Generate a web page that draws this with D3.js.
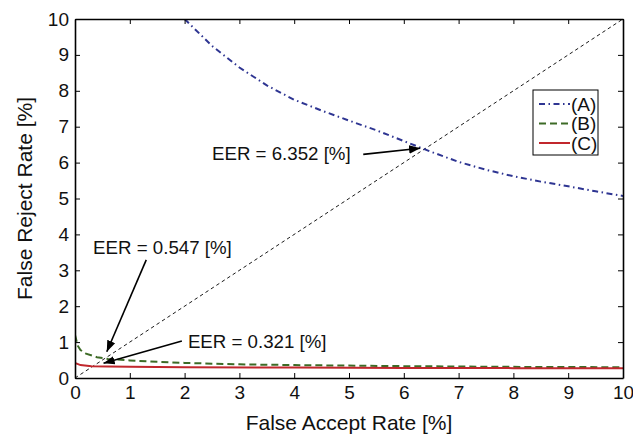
<!DOCTYPE html>
<meta charset="utf-8">
<head>
<style>
body { margin: 0; background: #fff; }
svg { display: block; }
text {
  font-family: "Liberation Sans", Arial, Helvetica, sans-serif;
  fill: #111;
}
.axis path, .axis line { stroke: #000; }
.axis path { stroke-width: 1.6px; }
.axis line { stroke-width: 1px; }
.axis text { font-size: 19px; }
.curve { fill: none; stroke-width: 2px; }
.note { font-size: 18.7px; }
</style>
<script src="https://d3js.org/d3.v7.min.js"></script>
</head>
<body>
<svg width="633" height="437"></svg>
<script>

// curve (A) : dash-dot blue
var farA = [2, 2.5, 3, 3.5, 4, 4.5, 5, 5.5, 6, 6.5, 7, 7.5, 8, 8.5, 9, 9.5, 10];
var frrA = [10, 9.25, 8.65, 8.15, 7.75, 7.45, 7.17, 6.9, 6.6, 6.3, 6.02, 5.8, 5.62, 5.47, 5.34, 5.2, 5.07];

// curve (B) : dashed green
var farB = [0, 0.05, 0.1, 0.2, 0.4, 0.6, 1, 1.5, 2, 3, 4, 6, 8, 10];
var frrB = [1.2, 0.9, 0.78, 0.68, 0.58, 0.53, 0.49, 0.45, 0.42, 0.38, 0.36, 0.33, 0.31, 0.3];

// curve (C) : solid red
var farC = [0, 0, 0.1, 0.3, 0.6, 1, 2, 4, 6, 8, 10];
var frrC = [10.5, 0.42, 0.36, 0.33, 0.32, 0.31, 0.3, 0.29, 0.28, 0.275, 0.27];

var seriesNames = ["(A)", "(B)", "(C)"];
var ticks = [0, 1, 2, 3, 4, 5, 6, 7, 8, 9, 10];

// EER annotations: label, label anchor, arrow start, arrow tip (data units)
var eerText = ["EER = 6.352 [%]", "EER = 0.547 [%]", "EER = 0.321 [%]"];
var eerLabelAt = [[2.5, 6.07], [0.33, 3.45], [2.06, 0.84]];
var eerFrom = [[5.26, 6.23], [1.30, 3.29], [1.95, 1.03]];
var eerTo = [[6.3, 6.4], [0.58, 0.73], [0.52, 0.41]];

var svg = d3.select("svg");
var pLeft = 75, pRight = 623, pTop = 19, pBottom = 378;

var x = d3.scaleLinear().domain([0, 10]).range([pLeft, pRight]);
var y = d3.scaleLinear().domain([0, 10]).range([pBottom, pTop]);

var defs = svg.append("defs");
defs.append("clipPath").attr("id", "plot")
  .append("rect")
    .attr("x", pLeft).attr("y", pTop)
    .attr("width", pRight - pLeft).attr("height", pBottom - pTop);

defs.append("marker")
    .attr("id", "head")
    .attr("viewBox", "0 0 10 10")
    .attr("refX", 10).attr("refY", 5)
    .attr("markerWidth", 7).attr("markerHeight", 7)
    .attr("markerUnits", "strokeWidth")
    .attr("orient", "auto")
  .append("path")
    .attr("d", "M0,1.2 L10,5 L0,8.8 Z")
    .attr("fill", "#000");

// diagonal (EER line)
var plot = svg.append("g").attr("clip-path", "url(#plot)");
plot.append("line")
    .attr("x1", x(0)).attr("y1", y(0))
    .attr("x2", x(10)).attr("y2", y(10))
    .attr("stroke", "#000")
    .attr("stroke-width", 0.9)
    .attr("stroke-dasharray", "3.5,3");

var line = d3.line()
    .x(function(d) { return x(d[0]); })
    .y(function(d) { return y(d[1]); });

var series = [
  { name: seriesNames[0], pts: d3.zip(farA, frrA), color: "#2e3592", dash: "6,3.5,1.5,3.5" },
  { name: seriesNames[1], pts: d3.zip(farB, frrB), color: "#3d6b26", dash: "7,4" },
  { name: seriesNames[2], pts: d3.zip(farC, frrC), color: "#c1272d", dash: null }
];

plot.selectAll("path.curve")
  .data(series)
  .enter().append("path")
    .attr("class", "curve")
    .attr("d", function(d) { return line(d.pts); })
    .attr("stroke", function(d) { return d.color; })
    .attr("stroke-dasharray", function(d) { return d.dash; });

// axes, MATLAB-style box with inward ticks
svg.append("g").attr("class", "axis")
    .attr("transform", "translate(0," + pBottom + ")")
    .call(d3.axisBottom(x).tickValues(ticks).tickSize(-5).tickSizeOuter(0).tickPadding(8));
svg.append("g").attr("class", "axis")
    .attr("transform", "translate(" + pLeft + ",0)")
    .call(d3.axisLeft(y).tickValues(ticks).tickSize(-5).tickSizeOuter(0).tickPadding(6));
svg.append("g").attr("class", "axis")
    .attr("transform", "translate(0," + pTop + ")")
    .call(d3.axisTop(x).tickValues(ticks).tickSize(-5).tickSizeOuter(0).tickFormat(""));
svg.append("g").attr("class", "axis")
    .attr("transform", "translate(" + pRight + ",0)")
    .call(d3.axisRight(y).tickValues(ticks).tickSize(-5).tickSizeOuter(0).tickFormat(""));
svg.selectAll(".axis text").attr("fill", "#111");

// axis titles
svg.append("text")
    .attr("x", (pLeft + pRight) / 2).attr("y", 430)
    .attr("text-anchor", "middle")
    .style("font-size", "21px")
    .text("False Accept Rate [%]");
svg.append("text")
    .attr("transform", "translate(32," + (pTop + pBottom) / 2 + ") rotate(-90)")
    .attr("text-anchor", "middle")
    .style("font-size", "21px")
    .text("False Reject Rate [%]");

// EER notes
eerText.forEach(function(t, i) {
  svg.append("text").attr("class", "note")
      .attr("x", x(eerLabelAt[i][0])).attr("y", y(eerLabelAt[i][1]))
      .text(t);
  svg.append("line")
      .attr("x1", x(eerFrom[i][0])).attr("y1", y(eerFrom[i][1]))
      .attr("x2", x(eerTo[i][0])).attr("y2", y(eerTo[i][1]))
      .attr("stroke", "#000").attr("stroke-width", 1.6)
      .attr("marker-end", "url(#head)");
});

// legend
var lg = svg.append("g").attr("transform", "translate(533,90)");
lg.append("rect")
    .attr("width", 65).attr("height", 65)
    .attr("fill", "#fff").attr("stroke", "#000").attr("stroke-width", 1);
var row = lg.selectAll("g.row")
  .data(series)
  .enter().append("g")
    .attr("class", "row")
    .attr("transform", function(d, i) { return "translate(0," + (14 + i * 19.5) + ")"; });
row.append("line")
    .attr("x1", 6).attr("x2", 37)
    .attr("stroke", function(d) { return d.color; })
    .attr("stroke-width", 2)
    .attr("stroke-dasharray", function(d) { return d.dash; });
row.append("text")
    .attr("x", 38).attr("dy", "0.35em")
    .style("font-size", "19px")
    .text(function(d) { return d.name; });

</script>
</body>
